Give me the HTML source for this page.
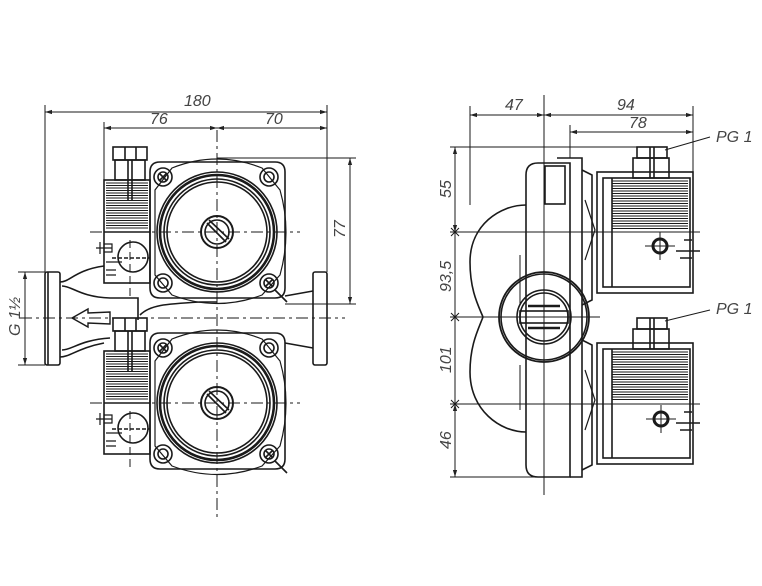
<!DOCTYPE html>
<html><head><meta charset="utf-8"><style>
html,body{margin:0;padding:0;background:#fff;}
svg{display:block;}
text{font-family:"Liberation Sans",sans-serif;font-style:italic;fill:#444;font-size:16px;}
</style></head><body>
<svg width="762" height="586" viewBox="0 0 762 586" xmlns="http://www.w3.org/2000/svg">
<defs>
<marker id="a" viewBox="0 0 10 10" refX="10" refY="5" markerWidth="7" markerHeight="7" orient="auto-start-reverse"><path d="M0,2 L10,5 L0,8 z" fill="#222"/></marker>
<g id="pumpL" fill="none" stroke="#1a1a1a" stroke-width="1.6">
  <path d="M160,162 L275,162 Q285,162 285,172 L285,288 Q285,298 275,298 L160,298 Q150,298 150,288 L150,172 Q150,162 160,162 Z"/>
  <path d="M172,168 Q217,150 262,168 L280,190 Q292,232 280,275 L262,295 Q217,312 172,295 L155,275 L155,190 Z" stroke-width="1.2"/>
  <circle cx="217" cy="232" r="60"/>
  <circle cx="217" cy="232" r="57" stroke-width="2.6"/>
  <circle cx="217" cy="232" r="53"/>
  <circle cx="217" cy="232" r="50"/>
  <circle cx="217" cy="232" r="16" stroke-width="2"/>
  <circle cx="217" cy="232" r="12"/>
  <path d="M207,223 L226,242 M209,220 L229,239"/>
  <circle cx="163" cy="177" r="9"/><circle cx="163" cy="177" r="5"/><path d="M160,174 L166,180 M166,174 L160,180"/>
  <circle cx="269" cy="177" r="9"/><circle cx="269" cy="177" r="5"/>
  <circle cx="163" cy="283" r="9"/><circle cx="163" cy="283" r="5"/>
  <circle cx="269" cy="283" r="9"/><circle cx="269" cy="283" r="5"/><path d="M266,280 L272,286 M272,280 L266,286 M275,290 L287,302"/>
  <rect x="113" y="147" width="34" height="13"/>
  <path d="M125,147 L125,160 M136,147 L136,160"/>
  <rect x="115" y="160" width="30" height="20"/>
  <path d="M128,160 L128,200 M132,160 L132,200"/>
  <rect x="104" y="180" width="46" height="103"/>
  <path d="M106,183 H148 M106,185.5 H148 M106,188 H148 M106,190.5 H148 M106,193 H148 M106,195.5 H148 M106,198 H148 M106,200.5 H148 M106,203 H148 M106,205.5 H148 M106,208 H148 M106,210.5 H148 M106,213 H148 M106,215.5 H148 M106,218 H148 M106,220.5 H148 M106,223 H148 M106,225.5 H148 M106,228 H148" stroke-width="1"/>
  <path d="M104,232 L150,232"/>
  <circle cx="133" cy="257" r="15"/>
  <path d="M96,248 L112,248 M100,242 L100,254 M104,244 L112,244 L112,252 L104,252 M106,262 L122,262 M106,270 L116,270 M106,275 L116,275" stroke-width="1.2"/>
  <path d="M112,258 L150,258" stroke-dasharray="4,2"/>
  <path d="M130,240 L130,300" stroke-dasharray="8,4" stroke-width="1"/>
</g>
</defs>

<use href="#pumpL"/>
<use href="#pumpL" transform="translate(0,171)"/>
<g fill="none" stroke="#1a1a1a" stroke-width="1.6">
  <rect x="45" y="272" width="15" height="93" rx="2"/>
  <path d="M48,272 L48,365"/>
  <rect x="313" y="272" width="14" height="93" rx="2"/>
  <path d="M60,282 C70,282 75,270 104,266"/>
  <path d="M60,357 C70,357 78,348 104,343"/>
  <path d="M62,286 C72,286 80,297 110,298 L138,298 L138,320"/>
  <path d="M62,350 C72,350 80,340 110,338"/>
  <path d="M140,315 C150,305 165,304 200,302 L217,302"/>
  <path d="M285,296 L313,291 M285,343 L313,348"/>
  <path d="M72,318 L88,309 L88,313 L110,312 L110,324 L88,323 L88,327 Z" stroke-width="1.4"/>
  <g stroke-dasharray="12,4,3,4" stroke-width="1">
    <path d="M20,318 L345,318"/>
    <path d="M217,130 L217,520"/>
    <path d="M90,232 L300,232"/>
    <path d="M90,403 L300,403"/>
  </g>
  <g stroke-width="1">
    <path d="M45,112 L327,112" marker-start="url(#a)" marker-end="url(#a)"/>
    <path d="M45,105 L45,272 M327,105 L327,272 M104,122 L104,180"/>
    <path d="M104,128 L217,128" marker-start="url(#a)" marker-end="url(#a)"/>
    <path d="M217,128 L327,128" marker-start="url(#a)" marker-end="url(#a)"/>
    <path d="M217,158 L356,158 M285,304 L356,304"/>
    <path d="M350,158 L350,304" marker-start="url(#a)" marker-end="url(#a)"/>
    <path d="M18,272 L45,272 M18,365 L45,365"/>
    <path d="M25,272 L25,365" marker-start="url(#a)" marker-end="url(#a)"/>
  </g>
</g>
<text x="184" y="106">180</text>
<text x="150" y="124">76</text>
<text x="265" y="124">70</text>
<text transform="translate(345,238) rotate(-90)">77</text>
<text transform="translate(20,336) rotate(-90)">G 1½</text>

<g fill="none" stroke="#1a1a1a" stroke-width="1.6">
  <path d="M526,205 C500,205 470,225 470,262 C470,290 478,305 483,317 C478,330 470,345 470,372 C470,410 500,432 526,432"/>
  <path d="M538,163 L570,163 L570,477 L538,477 Q526,477 526,465 L526,175 Q526,163 538,163 Z"/>
  <rect x="545" y="166" width="20" height="38"/>
  <path d="M557,158 L582,158 L582,477 L570,477"/>
  <path d="M582,170 L592,175 L592,300 L582,305 M582,340 L592,345 L592,465 L582,470"/>
  <path d="M585,200 L595,230 L585,260 M585,370 L595,400 L585,430" stroke-width="1.2"/>
  <rect x="597" y="172" width="96" height="121"/>
  <rect x="603" y="178" width="87" height="109"/>
  <rect x="597" y="343" width="96" height="121"/>
  <rect x="603" y="349" width="87" height="109"/>
  <path d="M612,181 H688 M612,183.5 H688 M612,186 H688 M612,188.5 H688 M612,191 H688 M612,193.5 H688 M612,196 H688 M612,198.5 H688 M612,201 H688 M612,203.5 H688 M612,206 H688 M612,208.5 H688 M612,211 H688 M612,213.5 H688 M612,216 H688 M612,218.5 H688 M612,221 H688 M612,223.5 H688 M612,226 H688 M612,228.5 H688" stroke-width="1"/>
  <path d="M612,352 H688 M612,354.5 H688 M612,357 H688 M612,359.5 H688 M612,362 H688 M612,364.5 H688 M612,367 H688 M612,369.5 H688 M612,372 H688 M612,374.5 H688 M612,377 H688 M612,379.5 H688 M612,382 H688 M612,384.5 H688 M612,387 H688 M612,389.5 H688 M612,392 H688 M612,394.5 H688 M612,397 H688 M612,399.5 H688" stroke-width="1"/>
  <path d="M612,178 L612,287 M612,349 L612,458"/>
  <rect x="637" y="147" width="30" height="11"/><rect x="633" y="158" width="36" height="20"/>
  <rect x="637" y="318" width="30" height="11"/><rect x="633" y="329" width="36" height="20"/>
  <path d="M650,147 L650,178 M654,147 L654,178 M650,318 L650,349 M654,318 L654,349"/>
  <circle cx="660" cy="246" r="7" stroke-width="3"/><circle cx="661" cy="419" r="7" stroke-width="3"/>
  <path d="M645,246 H675 M660,232 V260 M646,419 H676 M661,405 V433" stroke-width="1"/>
  <path d="M684,240 H692 M676,251 H700 M680,258 H692 M684,412 H692 M676,423 H700 M680,430 H692" stroke-width="1.4"/>
  <circle cx="544" cy="317" r="45" stroke-width="1.8"/>
  <circle cx="544" cy="317" r="43"/>
  <circle cx="544" cy="317" r="27"/>
  <circle cx="544" cy="317" r="24"/>
  <rect x="520" y="311" width="48" height="12"/>
  <path d="M528,306 H560 M528,328 H560" stroke-width="2.4"/>
  <path d="M544,95 L544,495" stroke-width="1"/>
  <path d="M450,232 L700,232 M450,404 L700,404 M450,317 L600,317" stroke-width="1"/>
  <path d="M520,255 L520,305 M520,365 L520,410" stroke-width="1"/>
  <g stroke-width="1">
    <path d="M470,106 L470,205 M693,106 L693,172 M570,125 L570,158"/>
    <path d="M470,115 L544,115" marker-start="url(#a)" marker-end="url(#a)"/>
    <path d="M544,115 L693,115" marker-start="url(#a)" marker-end="url(#a)"/>
    <path d="M570,132 L693,132" marker-start="url(#a)" marker-end="url(#a)"/>
    <path d="M450,147 L640,147 M450,477 L570,477"/>
    <path d="M455,147 L455,477"/>
    <path d="M451,228 L459,236 M451,236 L459,228 M451,313 L459,321 M451,321 L459,313 M451,400 L459,408 M451,408 L459,400"/>
    <path d="M455,147 L455,232" marker-start="url(#a)" marker-end="url(#a)"/>
    <path d="M455,404 L455,477" marker-start="url(#a)" marker-end="url(#a)"/>
    <path d="M665,150 L710,137 M665,321 L710,310"/>
  </g>
</g>
<text x="505" y="110">47</text>
<text x="617" y="110">94</text>
<text x="629" y="128">78</text>
<text x="716" y="142">PG 1</text>
<text x="716" y="314">PG 1</text>
<text transform="translate(451,198) rotate(-90)">55</text>
<text transform="translate(451,292) rotate(-90)">93,5</text>
<text transform="translate(451,373) rotate(-90)">101</text>
<text transform="translate(451,449) rotate(-90)">46</text>
</svg>
</body></html>
